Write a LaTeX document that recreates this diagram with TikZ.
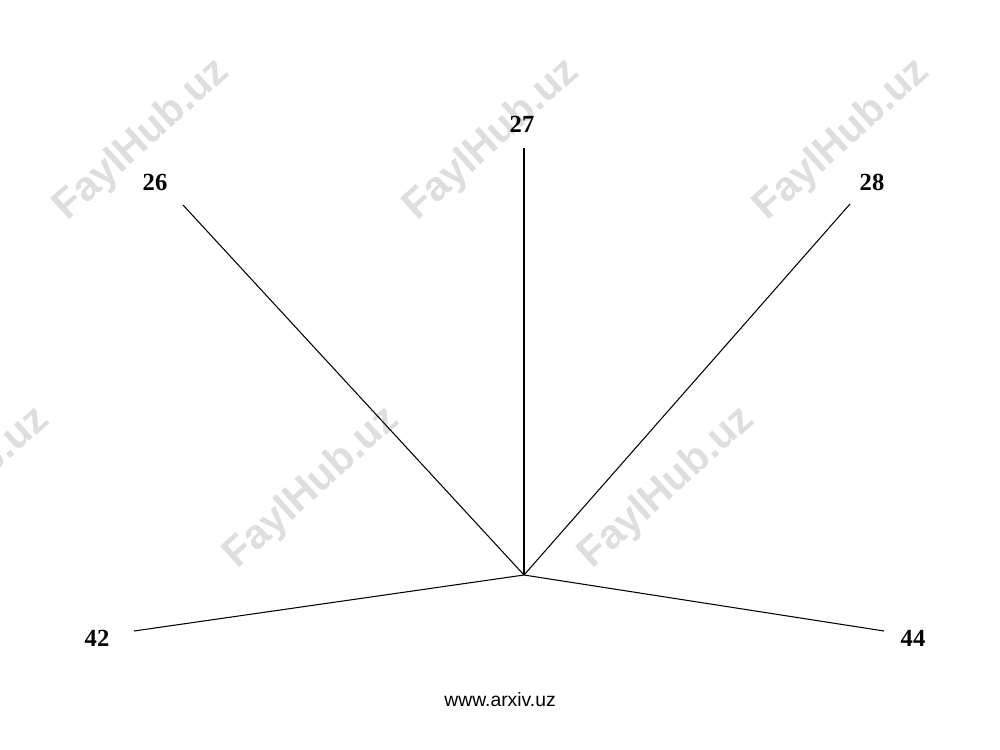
\documentclass[tikz,border=0pt]{standalone}
\usepackage{fontspec}
\setmainfont{Liberation Serif}
\setsansfont{Liberation Sans}
\begin{document}
\begin{tikzpicture}[x=0.02cm,y=-0.02cm,
  lbl/.style={font=\fontsize{14}{16}\selectfont\bfseries, inner sep=0pt},
  ray/.style={draw=black, line width=0.6pt},
  wm/.style={font=\sffamily\bfseries\fontsize{23.5}{26}\selectfont, text=black!13, rotate=42, inner sep=0pt}]
\useasboundingbox (0,0) rectangle (1000,750);
\begin{scope}
\clip (0,0) rectangle (1000,750);
\node[wm] (w1) at (142,140) {FaylHub.uz};
\node[wm] (w2) at (492,140) {FaylHub.uz};
\node[wm] (w3) at (842,140) {FaylHub.uz};
\node[wm] (w4) at (-38,488) {FaylHub.uz};
\node[wm] (w5) at (312,488) {FaylHub.uz};
\node[wm] (w6) at (667,488) {FaylHub.uz};
\end{scope}
\coordinate (c) at (524,575);
\coordinate (e26) at (183,205);
\coordinate (e27) at (524,148);
\coordinate (e28) at (850,204);
\coordinate (e42) at (134,631);
\coordinate (e44) at (884,631);
\draw[ray] (c) -- (e26);
\draw[ray] (c) -- (e27);
\draw[ray] (c) -- (e28);
\draw[ray] (c) -- (e42);
\draw[ray] (c) -- (e44);
\node[lbl] (l26) at (155,182) {26};
\node[lbl] (l27) at (522,124) {27};
\node[lbl] (l28) at (872,182) {28};
\node[lbl] (l42) at (97,638) {42};
\node[lbl] (l44) at (913,638) {44};
\node[font=\sffamily\fontsize{11}{13}\selectfont, inner sep=0pt] (url) at (500,700) {www.arxiv.uz};
\end{tikzpicture}
\end{document}
